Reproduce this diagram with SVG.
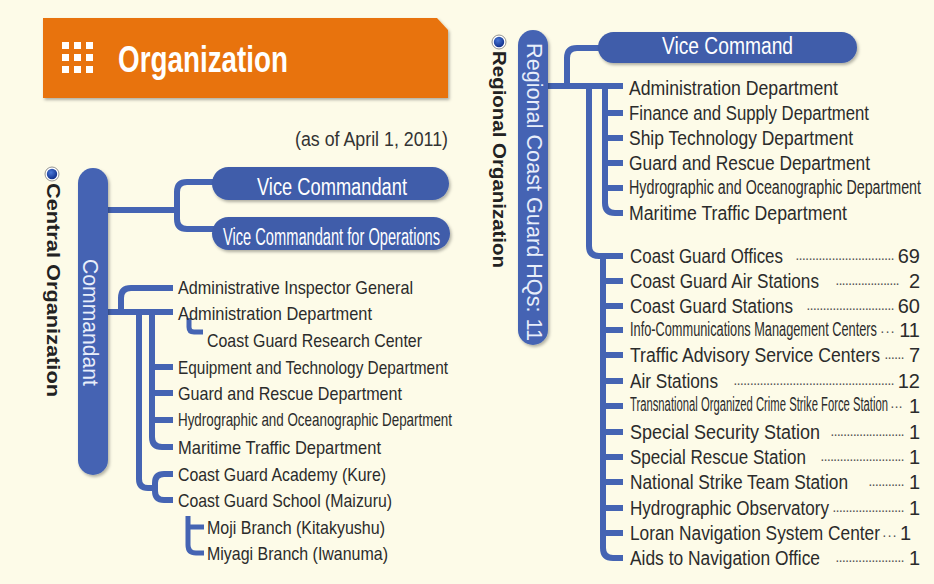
<svg xmlns="http://www.w3.org/2000/svg" width="934" height="584" viewBox="0 0 934 584">
<defs>
<style>
text{font-family:"Liberation Sans",Arial,sans-serif;}
.t{font-size:19px;fill:#2b2b2b;}
.r{font-size:20px;fill:#2b2b2b;}
.d{font-size:14px;fill:#555;}
.n{font-size:20px;fill:#2b2b2b;text-anchor:end;}
.w{fill:#ffffff;}
.bar{fill:#4564b3;}
.pill{fill:#3f5daa;}
.ln{fill:none;stroke:#4564b3;stroke-width:6;stroke-linejoin:round;}
.sm{stroke-width:5;}
.lbl{font-size:18px;font-weight:bold;fill:#222;}
</style>
<filter id="sh" x="-10%" y="-10%" width="130%" height="140%">
<feDropShadow dx="1.5" dy="2" stdDeviation="1.5" flood-color="#000" flood-opacity="0.3"/>
</filter>
<radialGradient id="bd" cx="0.4" cy="0.35" r="0.7">
<stop offset="0" stop-color="#4a78d8"/>
<stop offset="1" stop-color="#0d2c86"/>
</radialGradient>
</defs>
<rect width="934" height="584" fill="#fdfbe8"/>

<g id="header">
<path d="M43,18 H437 L448,30 V98 H43 Z" fill="#e8730f" filter="url(#sh)"/>
<g fill="#ffffff">
<rect x="62" y="42" width="7" height="7"/><rect x="74" y="42" width="7" height="7"/><rect x="86" y="42" width="7" height="7"/>
<rect x="62" y="54" width="7" height="7"/><rect x="74" y="54" width="7" height="7"/><rect x="86" y="54" width="7" height="7"/>
<rect x="62" y="66" width="7" height="7"/><rect x="74" y="66" width="7" height="7"/><rect x="86" y="66" width="7" height="7"/>
</g>
<text x="118" y="72" font-size="36" font-weight="bold" class="w" textLength="170" lengthAdjust="spacingAndGlyphs">Organization</text>
</g>
<g id="date">
<text x="295" y="146" font-size="20" fill="#333" textLength="153" lengthAdjust="spacingAndGlyphs">(as of April 1, 2011)</text>
</g>

<g id="connectors">
<path class="ln" d="M108,210 H177"/>
<path class="ln" d="M214,182 H187 Q177,182 177,192 V219 Q177,229 187,229 H214"/>
<path class="ln" d="M108,312 H173"/>
<path class="ln" d="M173,288 H131 Q121,288 121,298 V312"/>
<path class="ln" d="M139,312 V479 Q139,488 148,488 H156"/>
<path class="ln" d="M173,474 H164 Q155,474 155,483 V491 Q155,500 164,500 H173"/>
<path class="ln" d="M152,312 V437 Q152,447 162,447 H173"/>
<path class="ln" d="M152,367 H173 M152,393 H173 M152,420 H173"/>
<path class="ln sm" d="M189,318 V327 Q189,332 194,332 H203"/>
<path class="ln sm" d="M188,516 V545 Q188,553 196,553 H204 M188,527 H204"/>
<path class="ln" d="M547,86 H623"/>
<path class="ln" d="M567,86 V58 Q567,48 577,48 H600"/>
<path class="ln" d="M605,86 V203 Q605,213 615,213 H623 M605,113 H623 M605,138 H623 M605,163 H623 M605,188 H623"/>
<path class="ln" d="M589,86 V246 Q589,256 599,256 H623"/>
<path class="ln" d="M603,256 V548 Q603,558 613,558 H623 M603,281 H623 M603,306 H623 M603,330 H623 M603,355 H623 M603,381 H623 M603,406 H623 M603,432 H623 M603,457 H623 M603,482 H623 M603,508 H623 M603,533 H623"/>
</g>

<g id="central-label">
<circle cx="52" cy="174" r="7" fill="#fff" stroke="#777" stroke-width="0.8"/>
<circle cx="52" cy="174" r="5.2" fill="url(#bd)"/>
<text class="lbl" transform="translate(47,183) rotate(90)" textLength="214" lengthAdjust="spacingAndGlyphs">Central Organization</text>
</g>
<g id="commandant">
<rect class="bar" x="78" y="168" width="30" height="307" rx="15" filter="url(#sh)"/>
<text transform="translate(83,259) rotate(90)" font-size="22" fill="#e8eefa" textLength="127" lengthAdjust="spacingAndGlyphs">Commandant</text>
</g>
<g id="vice-commandant">
<rect class="pill" x="212" y="167" width="237" height="33" rx="16.5" filter="url(#sh)"/>
<text x="257" y="195" font-size="23" class="w" textLength="150" lengthAdjust="spacingAndGlyphs">Vice Commandant</text>
</g>
<g id="vice-commandant-ops">
<rect class="pill" x="212" y="217" width="238" height="33" rx="16.5" filter="url(#sh)"/>
<text x="223" y="245" font-size="23" class="w" textLength="217" lengthAdjust="spacingAndGlyphs">Vice Commandant for Operations</text>
</g>
<g id="c-aig"><text class="t" x="178" y="294" textLength="235" lengthAdjust="spacingAndGlyphs">Administrative Inspector General</text></g>
<g id="c-admin"><text class="t" x="178" y="320" textLength="194" lengthAdjust="spacingAndGlyphs">Administration Department</text></g>
<g id="c-research"><text class="t" x="207" y="347" textLength="215" lengthAdjust="spacingAndGlyphs">Coast Guard Research Center</text></g>
<g id="c-equip"><text class="t" x="178" y="374" textLength="270" lengthAdjust="spacingAndGlyphs">Equipment and Technology Department</text></g>
<g id="c-guard"><text class="t" x="178" y="400" textLength="224" lengthAdjust="spacingAndGlyphs">Guard and Rescue Department</text></g>
<g id="c-hydro"><text class="t" x="178" y="426" font-size="16" textLength="274" lengthAdjust="spacingAndGlyphs">Hydrographic and Oceanographic Department</text></g>
<g id="c-maritime"><text class="t" x="178" y="454" textLength="203" lengthAdjust="spacingAndGlyphs">Maritime Traffic Department</text></g>
<g id="c-academy"><text class="t" x="178" y="481" textLength="208" lengthAdjust="spacingAndGlyphs">Coast Guard Academy (Kure)</text></g>
<g id="c-school"><text class="t" x="178" y="507" textLength="214" lengthAdjust="spacingAndGlyphs">Coast Guard School (Maizuru)</text></g>
<g id="c-moji"><text class="t" x="207" y="534" textLength="178" lengthAdjust="spacingAndGlyphs">Moji Branch (Kitakyushu)</text></g>
<g id="c-miyagi"><text class="t" x="207" y="560" textLength="181" lengthAdjust="spacingAndGlyphs">Miyagi Branch (Iwanuma)</text></g>

<g id="regional-label">
<circle cx="499" cy="42" r="7" fill="#fff" stroke="#777" stroke-width="0.8"/>
<circle cx="499" cy="42" r="5.2" fill="url(#bd)"/>
<text class="lbl" transform="translate(493,51) rotate(90)" textLength="217" lengthAdjust="spacingAndGlyphs">Regional Organization</text>
</g>
<g id="regional-hq">
<rect class="bar" x="518" y="30" width="30" height="315" rx="15" filter="url(#sh)"/>
<text transform="translate(527,43) rotate(90)" font-size="22" fill="#e8eefa" textLength="298" lengthAdjust="spacingAndGlyphs">Regional Coast Guard HQs: 11</text>
</g>
<g id="vice-command">
<rect class="pill" x="598" y="32" width="259" height="31" rx="15.5" filter="url(#sh)"/>
<text x="662" y="54" font-size="23" class="w" textLength="131" lengthAdjust="spacingAndGlyphs">Vice Command</text>
</g>
<g id="r-admin"><text class="r" x="629" y="95" textLength="209" lengthAdjust="spacingAndGlyphs">Administration Department</text></g>
<g id="r-finance"><text class="r" x="629" y="120" textLength="240" lengthAdjust="spacingAndGlyphs">Finance and Supply Department</text></g>
<g id="r-ship"><text class="r" x="629" y="145" textLength="224" lengthAdjust="spacingAndGlyphs">Ship Technology Department</text></g>
<g id="r-guard"><text class="r" x="629" y="170" textLength="241" lengthAdjust="spacingAndGlyphs">Guard and Rescue Department</text></g>
<g id="r-hydro"><text class="r" x="629" y="194" font-size="17" textLength="292" lengthAdjust="spacingAndGlyphs">Hydrographic and Oceanographic Department</text></g>
<g id="r-maritime"><text class="r" x="629" y="220" textLength="218" lengthAdjust="spacingAndGlyphs">Maritime Traffic Department</text></g>

<g id="r-offices"><text class="r" x="630" y="263" textLength="153" lengthAdjust="spacingAndGlyphs">Coast Guard Offices</text><text class="d" x="795" y="263" textLength="100" lengthAdjust="spacing">······························</text><text class="n" x="920" y="263">69</text></g>
<g id="r-airstations-cg"><text class="r" x="630" y="288" textLength="189" lengthAdjust="spacingAndGlyphs">Coast Guard Air Stations</text><text class="d" x="835" y="288" textLength="65" lengthAdjust="spacing">····················</text><text class="n" x="920" y="288">2</text></g>
<g id="r-stations"><text class="r" x="630" y="313" textLength="163" lengthAdjust="spacingAndGlyphs">Coast Guard Stations</text><text class="d" x="806" y="313" textLength="89" lengthAdjust="spacing">···························</text><text class="n" x="920" y="313">60</text></g>
<g id="r-info"><text class="r" x="630" y="336" font-size="15" textLength="247" lengthAdjust="spacingAndGlyphs">Info-Communications Management Centers</text><text class="d" x="880" y="336" textLength="15" lengthAdjust="spacing">···</text><text class="n" x="920" y="337">11</text></g>
<g id="r-traffic"><text class="r" x="630" y="362" textLength="250" lengthAdjust="spacingAndGlyphs">Traffic Advisory Service Centers</text><text class="d" x="884" y="362" textLength="21" lengthAdjust="spacing">······</text><text class="n" x="920" y="362">7</text></g>
<g id="r-airstations"><text class="r" x="630" y="388" textLength="88" lengthAdjust="spacingAndGlyphs">Air Stations</text><text class="d" x="733" y="388" textLength="162" lengthAdjust="spacing">·················································</text><text class="n" x="920" y="388">12</text></g>
<g id="r-transnational"><text class="r" x="630" y="411" font-size="13" textLength="258" lengthAdjust="spacingAndGlyphs">Transnational Organized Crime Strike Force Station</text><text class="d" x="890" y="411" textLength="13" lengthAdjust="spacing">···</text><text class="n" x="920" y="413">1</text></g>
<g id="r-security"><text class="r" x="630" y="439" textLength="190" lengthAdjust="spacingAndGlyphs">Special Security Station</text><text class="d" x="830" y="439" textLength="75" lengthAdjust="spacing">·······················</text><text class="n" x="920" y="439">1</text></g>
<g id="r-rescue"><text class="r" x="630" y="464" textLength="176" lengthAdjust="spacingAndGlyphs">Special Rescue Station</text><text class="d" x="820" y="464" textLength="85" lengthAdjust="spacing">··························</text><text class="n" x="920" y="464">1</text></g>
<g id="r-strike"><text class="r" x="630" y="489" textLength="218" lengthAdjust="spacingAndGlyphs">National Strike Team Station</text><text class="d" x="868" y="489" textLength="37" lengthAdjust="spacing">···········</text><text class="n" x="920" y="489">1</text></g>
<g id="r-observatory"><text class="r" x="630" y="515" textLength="199" lengthAdjust="spacingAndGlyphs">Hydrographic Observatory</text><text class="d" x="832" y="515" textLength="73" lengthAdjust="spacing">······················</text><text class="n" x="920" y="515">1</text></g>
<g id="r-loran"><text class="r" x="630" y="540" textLength="250" lengthAdjust="spacingAndGlyphs">Loran Navigation System Center</text><text class="d" x="882" y="540" textLength="15" lengthAdjust="spacing">···</text><text class="n" x="911" y="540">1</text></g>
<g id="r-aids"><text class="r" x="630" y="565" textLength="190" lengthAdjust="spacingAndGlyphs">Aids to Navigation Office</text><text class="d" x="835" y="565" textLength="70" lengthAdjust="spacing">·····················</text><text class="n" x="920" y="565">1</text></g>
</svg>
